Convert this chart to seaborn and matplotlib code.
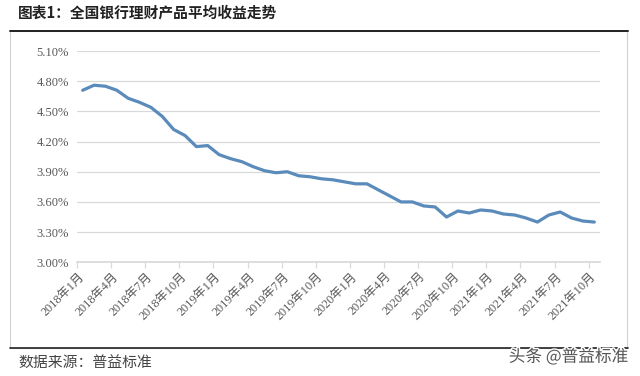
import matplotlib
matplotlib.use("Agg")
import matplotlib.pyplot as plt
import seaborn as sns
import pandas as pd
import numpy as np
from matplotlib.lines import Line2D
from matplotlib.patches import Rectangle
import matplotlib.patheffects as pe

# 数据：2018年1月 - 2021年10月 月度平均收益率（%）
years = [2018, 2019, 2020, 2021]
months = [f"{y}年{m}月" for y in years for m in range(1, 13)][:46]
yields = [4.71, 4.76, 4.75, 4.71, 4.63, 4.59, 4.54, 4.45, 4.32, 4.26,
          4.15, 4.16, 4.07, 4.03, 4.00, 3.95, 3.91, 3.89, 3.90, 3.86,
          3.85, 3.83, 3.82, 3.80, 3.78, 3.78, 3.72, 3.66, 3.60, 3.60,
          3.56, 3.55, 3.45, 3.51, 3.49, 3.52, 3.51, 3.48, 3.47, 3.44,
          3.40, 3.47, 3.50, 3.44, 3.41, 3.40]
yticks = [3.00, 3.30, 3.60, 3.90, 4.20, 4.50, 4.80, 5.10]

df = pd.DataFrame({"idx": range(len(months)), "month": months, "yield": yields})

sns.set_theme(style="white")
plt.rcParams['font.family'] = ['Noto Sans CJK SC', 'DejaVu Sans']

fig = plt.figure(figsize=(6.4, 3.76), dpi=100)
W, H = 640, 376

# 外框及上下黑线
fig.add_artist(Rectangle((10 / W, 1 - 348 / H), 617 / W, 317 / H, transform=fig.transFigure,
                         fill=False, edgecolor="#d0d0d0", linewidth=0.8))
fig.add_artist(Line2D([10 / W, 628 / W], [1 - 31 / H] * 2, transform=fig.transFigure,
                      color="#222222", linewidth=1.4))
fig.add_artist(Line2D([10 / W, 628 / W], [1 - 348 / H] * 2, transform=fig.transFigure,
                      color="#222222", linewidth=1.2))

ax = fig.add_axes([77 / W, 1 - 262.3 / H, 523 / W, 211.3 / H])
sns.lineplot(data=df, x="idx", y="yield", ax=ax, color="#5a8bbb", linewidth=2.3)

ax.set_xlim(-0.5, len(months) - 0.5)
ax.set_ylim(3.0, 5.1)
ax.set_yticks(yticks)
ax.set_yticklabels([f"{v:.2f}%" for v in yticks], family=['Liberation Serif', 'Noto Sans CJK SC'],
                   fontsize=9, color="#595959")
ax.yaxis.grid(True, color="#d9d9d9", linewidth=0.9)
ax.tick_params(axis="y", length=0, pad=6)

lab_idx = list(range(0, len(months), 3))
ax.set_xticks(lab_idx)
ax.set_xticklabels([months[i] for i in lab_idx], rotation=45, ha="right", va="center",
                   rotation_mode="anchor", family=['Liberation Serif', 'Noto Sans CJK SC'],
                   fontsize=8.8, color="#595959")
ax.tick_params(axis="x", which="major", length=0, pad=9)
ax.set_xticks([i - 0.5 for i in lab_idx], minor=True)
ax.tick_params(axis="x", which="minor", length=4, color="#d9d9d9", width=0.9, bottom=True)

for s in ["top", "right", "left"]:
    ax.spines[s].set_visible(False)
ax.spines["bottom"].set_color("#d9d9d9")
ax.set_xlabel("")
ax.set_ylabel("")

fig.text(18 / W, 1 - 12 / H, "图表1：全国银行理财产品平均收益走势", fontsize=10.6, fontweight="bold",
         color="#222222", va="center", ha="left")
fig.text(18 / W, 1 - 364 / H, "数据来源：普益标准", fontsize=10.7, color="#444444",
         va="center", ha="left")
fig.text(628 / W, 1 - 357 / H, "头条 @普益标准", fontsize=12, color="#555555",
         va="center", ha="right",
         path_effects=[pe.withStroke(linewidth=2, foreground="white")])

fig.savefig("out.png", dpi=100, facecolor="white")
